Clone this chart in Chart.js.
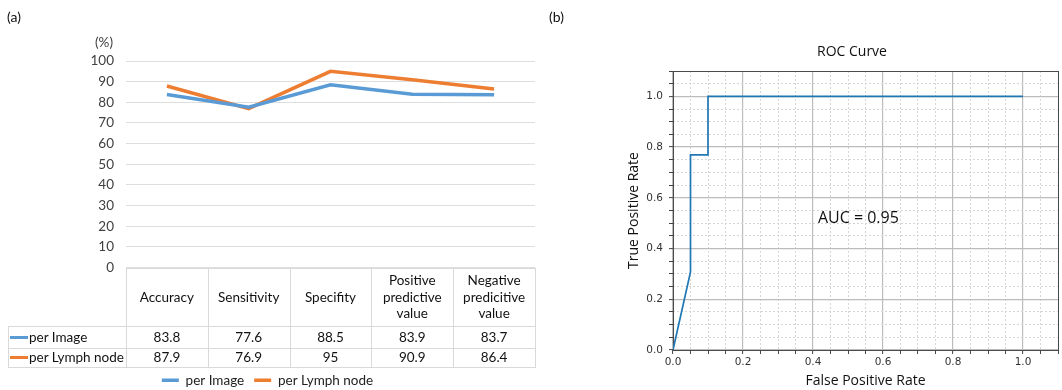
<!DOCTYPE html>
<html><head><meta charset="utf-8">
<script src="https://cdn.jsdelivr.net/npm/chart.js@4.4.1/dist/chart.umd.min.js"></script>
<style>
html,body{margin:0;padding:0;background:#fff;}
body{width:1062px;height:390px;position:relative;overflow:hidden;font-family:Lato,"Open Sans",sans-serif;}
.abs{position:absolute;white-space:nowrap;line-height:16px;}
#wrapA{position:absolute;left:0;top:0;width:540px;height:390px;}
#wrapB{position:absolute;left:560px;top:0;width:502px;height:390px;}
.ln{position:absolute;background:#D9D9D9;}
.cell{position:absolute;display:flex;align-items:center;justify-content:center;text-align:center;font-family:Lato,sans-serif;font-size:13.5px;line-height:16.5px;color:#111;white-space:nowrap;}
.lab{justify-content:flex-start;}
.sw{display:inline-block;width:18px;height:3px;margin:0 1px 0 2px;}
</style></head><body>
<div id="wrapA"><canvas id="cA" width="540" height="390"></canvas></div>
<div id="wrapB"><canvas id="cB" width="502" height="390"></canvas></div>
<div id="tbl"></div>
<div class="abs" style="left:7px;top:9px;font-size:14px;color:#111">(a)</div>
<div class="abs" style="left:549px;top:9px;font-size:14px;color:#111">(b)</div>
<div class="abs" style="left:95px;top:34px;font-size:13.5px;color:#404040">(%)</div>
<div class="abs" style="left:817px;top:43px;font-family:'Open Sans',sans-serif;font-size:14px;color:#111">ROC Curve</div>
<script>
// ---------- data ----------
const categories = ['Accuracy', 'Sensitivity', 'Specifity', ['Positive', 'predictive', 'value'], ['Negative', 'predicitive', 'value']];
const seriesNames = ['per Image', 'per Lymph node'];
const perImage = [83.8, 77.6, 88.5, 83.9, 83.7];
const perLymphNode = [87.9, 76.9, 95, 90.9, 86.4];
const seriesColors = ['#5B9BD5', '#ED7D31'];
const yTicksA = [0, 10, 20, 30, 40, 50, 60, 70, 80, 90, 100];

const rocFpr = [0, 0.05, 0.05, 0.1, 0.1, 1.0];
const rocTpr = [0, 0.308, 0.769, 0.769, 1.0, 1.0];
const rocTickLabels = ['0.0', '0.2', '0.4', '0.6', '0.8', '1.0'];
const aucText = 'AUC = 0.95';

// ---------- panel (a) ----------
const seriesValues = [perImage, perLymphNode];
const chartA = new Chart(document.getElementById('cA'), {
  type: 'line',
  data: {
    labels: categories,
    datasets: seriesNames.map((name, i) => ({
      label: name, data: seriesValues[i], borderColor: seriesColors[i], backgroundColor: seriesColors[i],
      borderWidth: 3.5, pointRadius: 0, tension: 0, fill: false
    }))
  },
  options: {
    responsive: false, animation: false, events: [],
    layout: { padding: { left: 0, right: 5, top: 61, bottom: -7 } },
    plugins: {
      tooltip: { enabled: false },
      legend: {
        position: 'bottom',
        labels: { usePointStyle: true, pointStyle: 'line', pointStyleWidth: 17, boxWidth: 17, padding: 10,
          color: '#222', font: { family: 'Lato', size: 13.5 } }
      }
    },
    scales: {
      x: { offset: true, grid: { display: false }, border: { display: false }, ticks: { display: false },
        afterFit: s => { s.height = 96; } },
      y: { min: yTicksA[0], max: yTicksA[yTicksA.length - 1],
        afterBuildTicks: s => { s.ticks = yTicksA.map(v => ({ value: v })); },
        ticks: { padding: 12, color: '#404040', font: { family: 'Lato', size: 13.5 } },
        grid: { color: '#DEDEDE', drawTicks: false }, border: { display: false },
        afterFit: s => { s.width = 126; } }
    }
  }
});

// data table under panel (a), aligned on the chart's own category scale
(function buildTable() {
  const tbl = document.getElementById('tbl');
  const xs = chartA.scales.x, area = chartA.chartArea;
  const n = categories.length;
  const colW = (area.right - area.left) / n;
  const top = Math.round(area.bottom);
  const rowH = [58, 22, 19];
  const leftEdge = 8;
  const right = area.left + n * colW;
  const rowY = [top, top + rowH[0], top + rowH[0] + rowH[1], top + rowH[0] + rowH[1] + rowH[2]];
  const add = (html) => { tbl.insertAdjacentHTML('beforeend', html); };
  add(`<div class="ln" style="left:${area.left}px;top:${rowY[0]}px;width:${right - area.left + 1}px;height:1px"></div>`);
  for (let r = 1; r < 4; r++)
    add(`<div class="ln" style="left:${leftEdge}px;top:${rowY[r]}px;width:${right - leftEdge + 1}px;height:1px"></div>`);
  add(`<div class="ln" style="left:${leftEdge}px;top:${rowY[1]}px;width:1px;height:${rowY[3] - rowY[1]}px"></div>`);
  for (let c = 0; c <= n; c++) {
    const x = Math.round(xs.getPixelForValue(0) - colW / 2 + c * colW);
    add(`<div class="ln" style="left:${x}px;top:${rowY[0]}px;width:1px;height:${rowY[3] - rowY[0]}px"></div>`);
  }
  categories.forEach((cat, i) => {
    const cx = xs.getPixelForValue(i);
    const txt = Array.isArray(cat) ? cat.join('<br>') : cat;
    add(`<div class="cell" style="left:${cx - colW / 2}px;top:${rowY[0]}px;width:${colW}px;height:${rowH[0]}px">${txt}</div>`);
  });
  seriesNames.forEach((name, r) => {
    const y0 = rowY[r + 1], h = rowH[r + 1];
    add(`<div class="cell lab" style="left:${leftEdge}px;top:${y0}px;width:${area.left - leftEdge}px;height:${h}px"><span class="sw" style="background:${seriesColors[r]}"></span>${name}</div>`);
    seriesValues[r].forEach((v, i) => {
      const cx = xs.getPixelForValue(i);
      add(`<div class="cell" style="left:${cx - colW / 2}px;top:${y0}px;width:${colW}px;height:${h}px">${v}</div>`);
    });
  });
})();

// ---------- panel (b) ----------
const isMajor = v => Math.abs(v / 0.2 - Math.round(v / 0.2)) < 1e-6;
const majorLabel = v => {
  if (!isMajor(v)) return '';
  const idx = Math.round(v / 0.2);
  return rocTickLabels[idx] !== undefined ? rocTickLabels[idx] : '';
};
const gridCommon = {
  color: c => (c.tick && isMajor(c.tick.value)) ? '#bcbcbc' : '#d6d6d6',
  lineWidth: c => (c.tick && isMajor(c.tick.value)) ? 1.2 : 1,
  drawTicks: true, tickLength: 4, tickColor: '#444', tickWidth: 1
};
const borderCommon = { display: false, dash: c => (c.tick && !isMajor(c.tick.value)) ? [2, 2] : [] };
const tickFont = { family: 'DejaVu Sans', size: 10.5 };

const framePlugin = {
  id: 'frame',
  beforeDatasetsDraw(chart) {
    const { ctx, chartArea: a } = chart;
    const al = p => Math.round(p - 0.5) + 0.5;
    ctx.save();
    ctx.strokeStyle = '#4a4a4a'; ctx.lineWidth = 1;
    ctx.strokeRect(al(a.left), al(a.top), al(a.right) - al(a.left), al(a.bottom) - al(a.top));
    ctx.restore();
  }
};
const aucPlugin = {
  id: 'auc',
  afterDatasetsDraw(chart) {
    const { ctx, scales: { x, y } } = chart;
    ctx.save();
    ctx.font = '16px "Open Sans"';
    ctx.fillStyle = '#111';
    ctx.textBaseline = 'middle'; ctx.textAlign = 'left';
    ctx.fillText(aucText, x.getPixelForValue(0.414), y.getPixelForValue(0.52));
    ctx.restore();
  }
};

new Chart(document.getElementById('cB'), {
  type: 'scatter',
  data: { datasets: [{ data: rocFpr.map((v, i) => ({ x: v, y: rocTpr[i] })), showLine: true,
    borderColor: '#1f77b4', borderWidth: 1.7, pointRadius: 0, tension: 0, fill: false }] },
  options: {
    responsive: false, animation: false, events: [],
    layout: { padding: { left: 0, right: 4, top: 71, bottom: 0 } },
    plugins: { legend: { display: false }, tooltip: { enabled: false } },
    scales: {
      x: { type: 'linear', min: 0, max: 1.1,
        ticks: { stepSize: 0.05, autoSkip: false, maxRotation: 0, minRotation: 0, padding: 2, color: '#333', font: tickFont,
          callback: v => majorLabel(v) },
        grid: gridCommon, border: borderCommon,
        title: { display: true, text: 'False Positive Rate', color: '#111', font: { family: 'Open Sans', size: 14 }, padding: { top: 0, bottom: 0.6 } },
        afterFit: s => { s.height = 40; } },
      y: { type: 'linear', min: 0, max: 1.1,
        ticks: { stepSize: 0.05, autoSkip: false, padding: 6, color: '#333', font: tickFont,
          callback: v => majorLabel(v) },
        grid: gridCommon, border: borderCommon,
        title: { display: true, text: 'True Positive Rate', color: '#111', font: { family: 'Open Sans', size: 14 }, padding: { top: 65.6, bottom: 0 } },
        afterFit: s => { s.width = 113; } }
    }
  },
  plugins: [framePlugin, aucPlugin]
});
</script>
</body></html>
